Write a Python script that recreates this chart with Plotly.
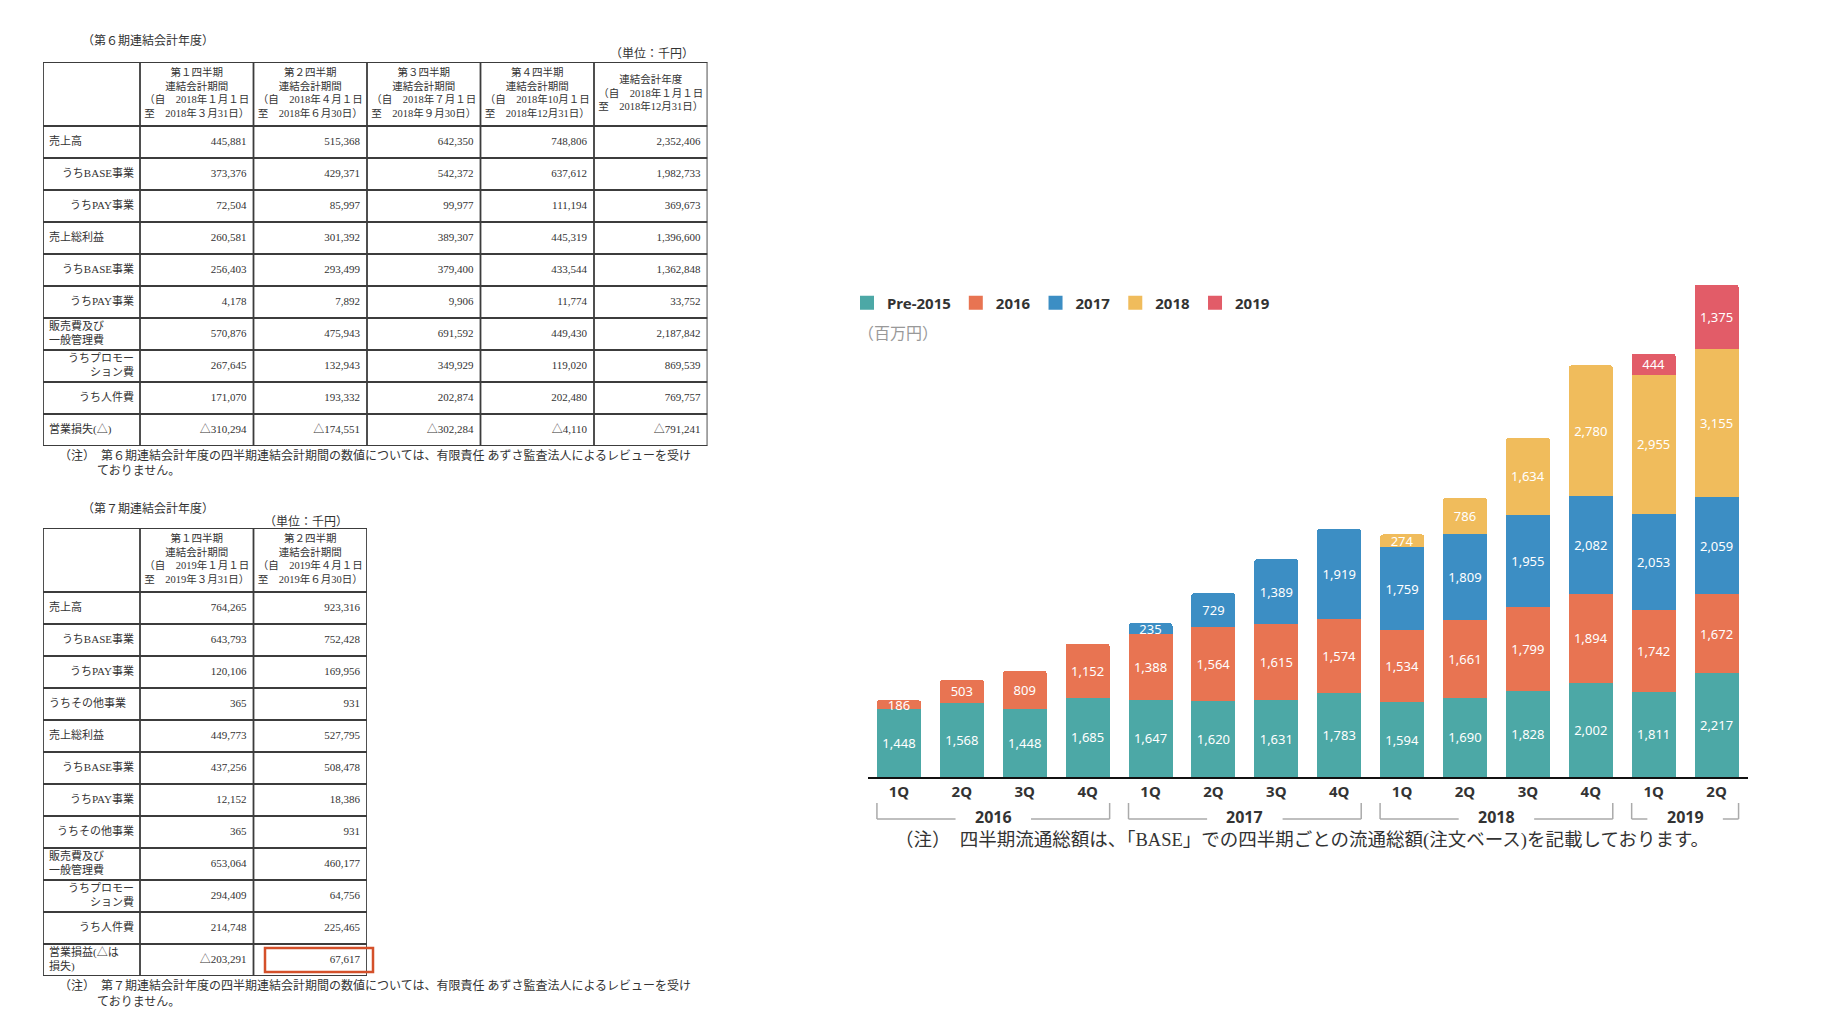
import plotly.graph_objects as go

# page is 1838x1024, browser body keeps its default 8px margin
W, H = 1838, 1024
OFF = 8
FW, FH = W - 2 * OFF, H - 2 * OFF


def px(x):
    return (x - OFF) / FW


def py(y):
    return 1 - (y - OFF) / FH


SERIF = "Liberation Serif, Noto Sans CJK JP"
SANS = "Noto Sans, Noto Sans CJK JP"
JP = "Noto Sans CJK JP"

# ---- chart data (百万円) ----
quarters = ["1Q", "2Q", "3Q", "4Q", "1Q", "2Q", "3Q", "4Q",
            "1Q", "2Q", "3Q", "4Q", "1Q", "2Q"]
years = ["2016", "2017", "2018", "2019"]
year_first = [0, 4, 8, 12]
year_last = [3, 7, 11, 13]

pre2015 = [1448, 1568, 1448, 1685, 1647, 1620, 1631, 1783, 1594, 1690, 1828, 2002, 1811, 2217]
c2016 = [186, 503, 809, 1152, 1388, 1564, 1615, 1574, 1534, 1661, 1799, 1894, 1742, 1672]
c2017 = [None, None, None, None, 235, 729, 1389, 1919, 1759, 1809, 1955, 2082, 2053, 2059]
c2018 = [None, None, None, None, None, None, None, None, 274, 786, 1634, 2780, 2955, 3155]
c2019 = [None, None, None, None, None, None, None, None, None, None, None, None, 444, 1375]

series = [("Pre-2015", pre2015, "#4ca8a6"),
          ("2016", c2016, "#e87452"),
          ("2017", c2017, "#3c8ec4"),
          ("2018", c2018, "#f0bc5c"),
          ("2019", c2019, "#e25c68")]

# ---- table data (千円) ----
t1_header = [
    "",
    "第１四半期<br>連結会計期間<br>（自　2018年１月１日<br>至　2018年３月31日）",
    "第２四半期<br>連結会計期間<br>（自　2018年４月１日<br>至　2018年６月30日）",
    "第３四半期<br>連結会計期間<br>（自　2018年７月１日<br>至　2018年９月30日）",
    "第４四半期<br>連結会計期間<br>（自　2018年10月１日<br>至　2018年12月31日）",
    "連結会計年度<br>（自　2018年１月１日<br>至　2018年12月31日）",
]
t1_labels = ["売上高", "うちBASE事業", "うちPAY事業", "売上総利益", "うちBASE事業",
             "うちPAY事業", "販売費及び<br>一般管理費", "うちプロモー<br>ション費",
             "うち人件費", "営業損失(△)"]
t1_label_align = ["left", "right", "right", "left", "right",
                  "right", "left", "right", "right", "left"]
t1_q1 = ["445,881", "373,376", "72,504", "260,581", "256,403",
         "4,178", "570,876", "267,645", "171,070", "△310,294"]
t1_q2 = ["515,368", "429,371", "85,997", "301,392", "293,499",
         "7,892", "475,943", "132,943", "193,332", "△174,551"]
t1_q3 = ["642,350", "542,372", "99,977", "389,307", "379,400",
         "9,906", "691,592", "349,929", "202,874", "△302,284"]
t1_q4 = ["748,806", "637,612", "111,194", "445,319", "433,544",
         "11,774", "449,430", "119,020", "202,480", "△4,110"]
t1_fy = ["2,352,406", "1,982,733", "369,673", "1,396,600", "1,362,848",
         "33,752", "2,187,842", "869,539", "769,757", "△791,241"]

t2_header = [
    "",
    "第１四半期<br>連結会計期間<br>（自　2019年１月１日<br>至　2019年３月31日）",
    "第２四半期<br>連結会計期間<br>（自　2019年４月１日<br>至　2019年６月30日）",
]
t2_labels = ["売上高", "うちBASE事業", "うちPAY事業", "うちその他事業", "売上総利益",
             "うちBASE事業", "うちPAY事業", "うちその他事業", "販売費及び<br>一般管理費",
             "うちプロモー<br>ション費", "うち人件費", "営業損益(△は<br>損失)"]
t2_label_align = ["left", "right", "right", "left", "left",
                  "right", "right", "right", "left", "right", "right", "left"]
t2_q1 = ["764,265", "643,793", "120,106", "365", "449,773", "437,256",
         "12,152", "365", "653,064", "294,409", "214,748", "△203,291"]
t2_q2 = ["923,316", "752,428", "169,956", "931", "527,795", "508,478",
         "18,386", "931", "460,177", "64,756", "225,465", "67,617"]

# column edges of the tables (px from the table's left border)
t1_edges = [0, 97, 210.5, 324, 437.5, 551, 664.5]
t2_edges = [0, 97, 210.5, 324]

fig = go.Figure()

x_pos = list(range(len(quarters)))
for name, vals, color in series:
    fig.add_trace(go.Bar(
        x=x_pos, y=vals, name=name, marker_color=color, marker_line_width=0,
        text=vals, texttemplate="%{y:,}", textposition="inside",
        insidetextanchor="middle", textangle=0, constraintext="none",
        textfont=dict(color="white", size=13, family=SANS),
        hoverinfo="skip", showlegend=False,
    ))
    # bigger square swatch for the legend
    fig.add_trace(go.Scatter(
        x=[None], y=[None], mode="markers", name=name,
        marker=dict(symbol="square", size=14, color=color),
    ))

shapes = []
grid_line = dict(color="#3c3c3c", width=1.8)


def add_table(edges, header, columns, label_align, xa, ya):
    nrows = len(columns[0])
    xs, ys, txt, pos, size = [], [], [], [], []
    for j, h in enumerate(header):
        xs.append((edges[j] + edges[j + 1]) / 2)
        ys.append(-1)
        txt.append(h)
        pos.append("middle center")
        size.append(10.5)
    for j, col in enumerate(columns):
        for r, v in enumerate(col):
            if j == 0 and label_align[r] == "left":
                xs.append(edges[0] + 6)
                pos.append("middle right")
            elif j == 0:
                xs.append(edges[1] - 6)
                pos.append("middle left")
            else:
                xs.append(edges[j + 1] - 7)
                pos.append("middle left")
            ys.append(r + 0.5)
            txt.append(v)
            size.append(11)
    fig.add_trace(go.Scatter(
        x=xs, y=ys, text=txt, mode="text", textposition=pos,
        textfont=dict(family=SERIF, size=size, color="#333"),
        xaxis=xa, yaxis=ya, showlegend=False, hoverinfo="skip", cliponaxis=False,
    ))
    for yv in [-2, 0] + list(range(1, nrows + 1)):
        shapes.append(dict(type="line", xref=xa, yref=ya, x0=edges[0], x1=edges[-1],
                           y0=yv, y1=yv, line=grid_line))
    for xv in edges:
        shapes.append(dict(type="line", xref=xa, yref=ya, x0=xv, x1=xv,
                           y0=-2, y1=nrows, line=grid_line))


add_table(t1_edges, t1_header, [t1_labels, t1_q1, t1_q2, t1_q3, t1_q4, t1_fy],
          t1_label_align, "x2", "y2")
add_table(t2_edges, t2_header, [t2_labels, t2_q1, t2_q2],
          t2_label_align, "x3", "y3")

ann = []
small = dict(family=SERIF, size=12, color="#333")
ann.append(dict(text="（第６期連結会計年度）", x=px(80), y=py(41), xanchor="left", font=small))
ann.append(dict(text="（単位：千円）", x=px(696), y=py(54), xanchor="right", font=small))
ann.append(dict(text="（第７期連結会計年度）", x=px(80), y=py(508), xanchor="left", font=small))
ann.append(dict(text="（単位：千円）", x=px(350), y=py(522), xanchor="right", font=small))
ann.append(dict(text="（注）　第６期連結会計年度の四半期連結会計期間の数値については、有限責任 あずさ監査法人によるレビューを受け",
                x=px(57), y=py(455), xanchor="left", font=small))
ann.append(dict(text="ておりません。", x=px(95), y=py(471), xanchor="left", font=small))
ann.append(dict(text="（注）　第７期連結会計年度の四半期連結会計期間の数値については、有限責任 あずさ監査法人によるレビューを受け",
                x=px(57), y=py(985), xanchor="left", font=small))
ann.append(dict(text="ておりません。", x=px(95), y=py(1002), xanchor="left", font=small))

ann.append(dict(text="（百万円）", x=px(856), y=py(332), xanchor="left",
                font=dict(family=JP, size=16, color="#999")))
ann.append(dict(text="（注）　四半期流通総額は、「BASE」での四半期ごとの流通総額(注文ベース)を記載しております。",
                x=px(1302), y=py(840), xanchor="center",
                font=dict(family=SERIF, size=18.5, color="#333")))

bracket = dict(color="#aaa", width=1.5)
for yr, a, b in zip(years, year_first, year_last):
    left, right = a - 0.35, b + 0.35
    mid = (left + right) / 2
    gap = 0.6
    ann.append(dict(text="<b>%s</b>" % yr, x=mid, xref="x", y=py(817), yref="paper",
                    font=dict(family=SANS, size=16, color="#333"), showarrow=False))
    for x0, y0, x1, y1 in [(left, 803, left, 819), (left, 819, mid - gap, 819),
                           (mid + gap, 819, right, 819), (right, 803, right, 819)]:
        shapes.append(dict(type="line", xref="x", yref="paper", x0=x0, x1=x1,
                           y0=py(y0), y1=py(y1), line=bracket))

# highlight box around Q2 operating profit
shapes.append(dict(type="rect", xref="paper", yref="paper", x0=px(265), x1=px(373),
                   y0=py(972), y1=py(948), line=dict(color="#d4502a", width=2.5)))

for a in ann:
    a.setdefault("xref", "paper")
    a.setdefault("yref", "paper")
    a.setdefault("showarrow", False)
    a.setdefault("yanchor", "middle")

hidden = dict(visible=False, fixedrange=True, showgrid=False, zeroline=False)

fig.update_layout(
    width=FW, height=FH,
    margin=dict(l=0, r=0, t=0, b=0),
    paper_bgcolor="white", plot_bgcolor="white",
    barmode="stack", bargap=0.30, barcornerradius=3,
    showlegend=True,
    legend=dict(orientation="h", x=px(847), y=py(303), xanchor="left", yanchor="middle",
                font=dict(family=SANS, size=15, color="#333", weight="bold"),
                bgcolor="rgba(0,0,0,0)", traceorder="normal", itemsizing="trace"),
    xaxis=dict(domain=[px(867.5), px(1748)], range=[-0.5, 13.5],
               tickvals=x_pos, ticktext=quarters, showline=True, linecolor="#111",
               linewidth=2, showgrid=False, zeroline=False, ticks="", fixedrange=True,
               tickfont=dict(family=SANS, size=15, color="#333", weight="bold")),
    yaxis=dict(domain=[py(777), py(260)], range=[0, 11000], visible=False, fixedrange=True),
    xaxis2=dict(domain=[px(43), px(43 + t1_edges[-1])], range=[0, t1_edges[-1]],
                anchor="y2", **hidden),
    yaxis2=dict(domain=[py(446), py(62)], range=[len(t1_labels), -2], anchor="x2", **hidden),
    xaxis3=dict(domain=[px(43), px(43 + t2_edges[-1])], range=[0, t2_edges[-1]],
                anchor="y3", **hidden),
    yaxis3=dict(domain=[py(976), py(528)], range=[len(t2_labels), -2], anchor="x3", **hidden),
    annotations=ann, shapes=shapes,
)

fig.write_html("out.html")
